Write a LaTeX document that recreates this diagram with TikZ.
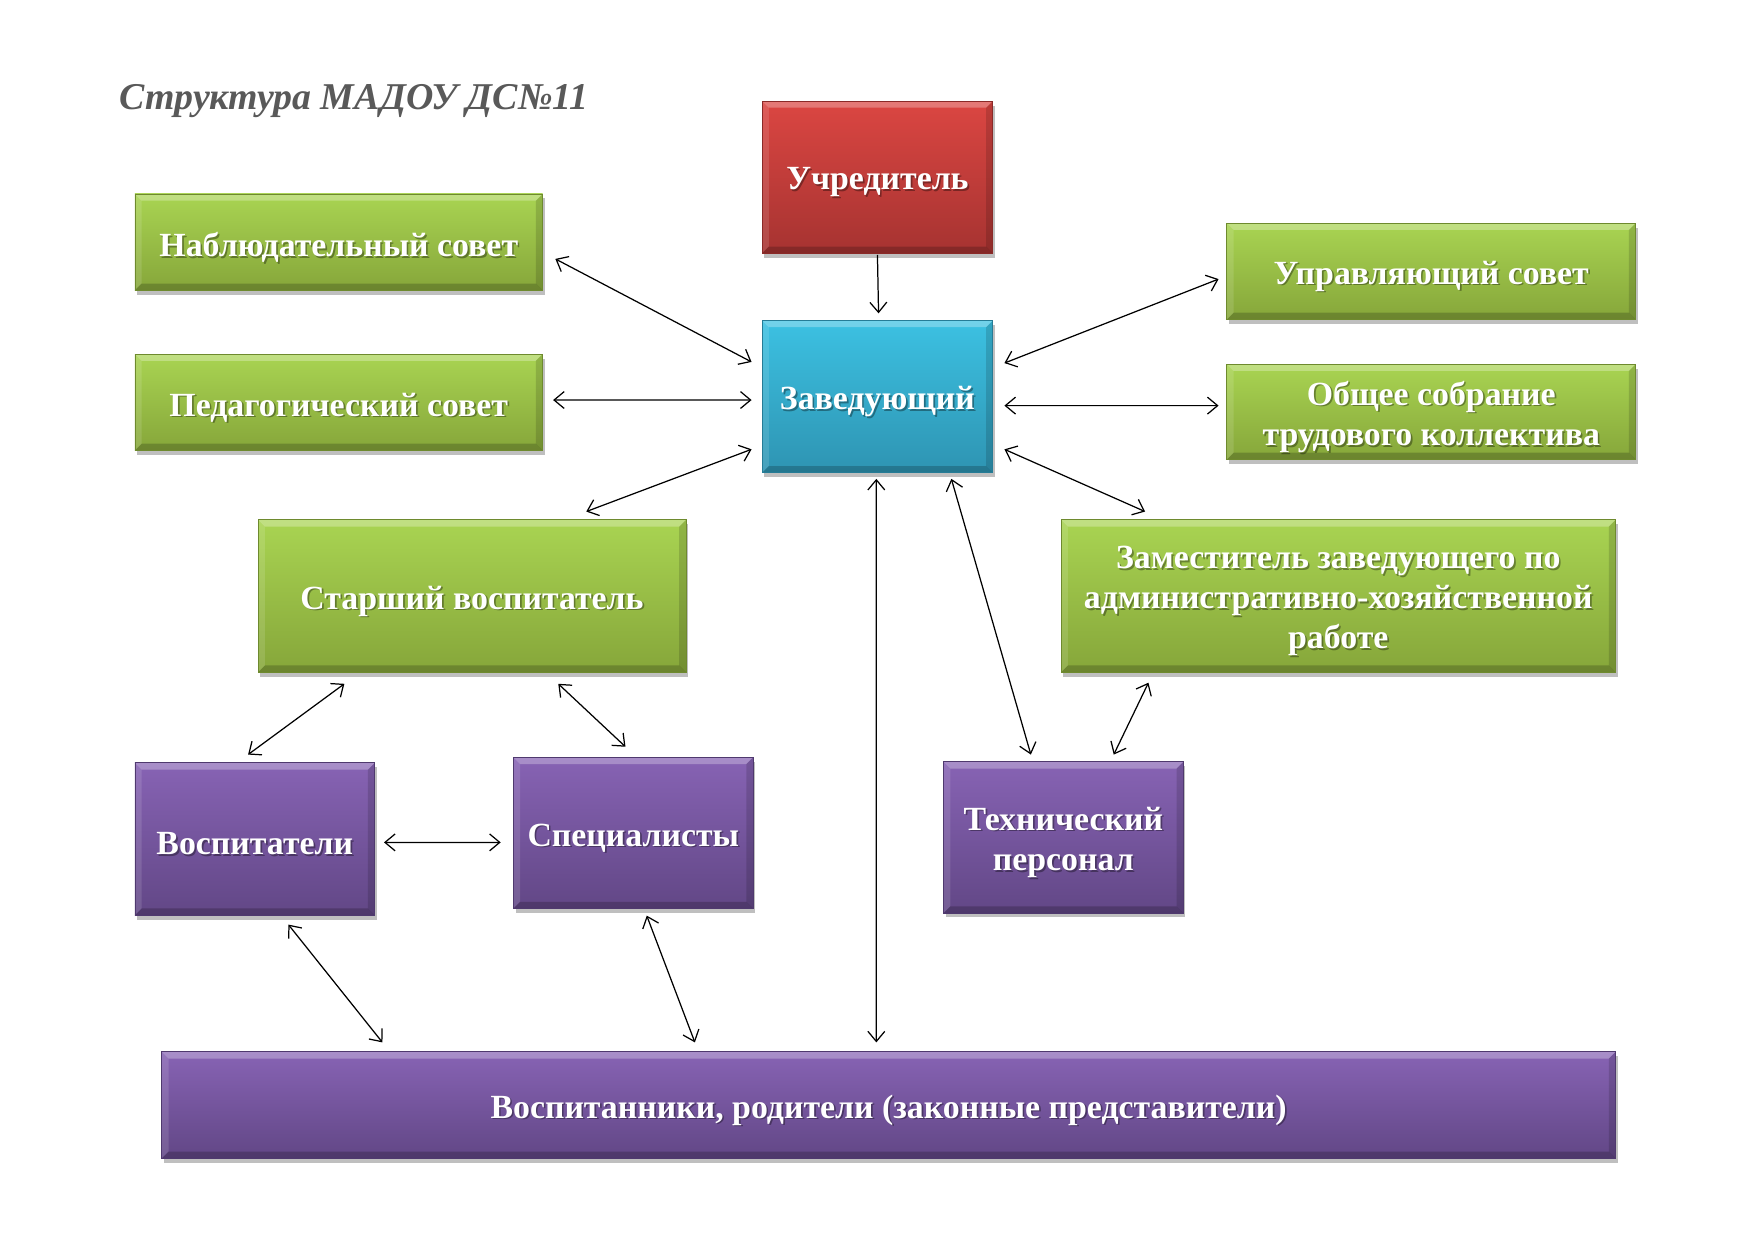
\documentclass[tikz,border=0pt]{standalone}
\usepackage{fontspec}
\setmainfont{Liberation Serif}
\usetikzlibrary{arrows.meta,shadows,calc}
\definecolor{gT}{HTML}{A9D452}
\definecolor{gB}{HTML}{86A63A}
\definecolor{gD}{HTML}{6E8A2E}
\definecolor{rT}{HTML}{DB4642}
\definecolor{rB}{HTML}{A63331}
\definecolor{rD}{HTML}{8A2A28}
\definecolor{cT}{HTML}{3CC1E2}
\definecolor{cB}{HTML}{2E94B2}
\definecolor{cD}{HTML}{267C96}
\definecolor{pT}{HTML}{8763B4}
\definecolor{pB}{HTML}{624786}
\definecolor{pD}{HTML}{4F396E}
\definecolor{titlegray}{HTML}{595959}
\tikzset{
  bevel/.style={path picture={
    \fill[white,opacity=0.28] (path picture bounding box.north west) -- (path picture bounding box.north east)
      -- ([shift={(-6,6)}]path picture bounding box.north east) -- ([shift={(6,6)}]path picture bounding box.north west) -- cycle;
    \fill[white,opacity=0.12] (path picture bounding box.north west) -- ([shift={(6,6)}]path picture bounding box.north west)
      -- ([shift={(6,-6)}]path picture bounding box.south west) -- (path picture bounding box.south west) -- cycle;
    \fill[black,opacity=0.14] (path picture bounding box.north east) -- ([shift={(-6,6)}]path picture bounding box.north east)
      -- ([shift={(-6,-6)}]path picture bounding box.south east) -- (path picture bounding box.south east) -- cycle;
    \fill[black,opacity=0.2] (path picture bounding box.south west) -- (path picture bounding box.south east)
      -- ([shift={(-6,-6)}]path picture bounding box.south east) -- ([shift={(6,-6)}]path picture bounding box.south west) -- cycle;
  }},
  boxbase/.style={rectangle, inner sep=0pt, line width=0.8pt, bevel,
    drop shadow={shadow xshift=2pt, shadow yshift=-4pt, opacity=0.25, fill=black}},
  greenbox/.style={boxbase, top color=gT, bottom color=gB, draw=gD},
  redbox/.style={boxbase, top color=rT, bottom color=rB, draw=rD},
  cyanbox/.style={boxbase, top color=cT, bottom color=cB, draw=cD},
  purplebox/.style={boxbase, top color=pT, bottom color=pB, draw=pD},
  boxtext/.style={align=center, text=white, inner sep=0pt,
    font=\bfseries\fontsize{30.2}{36}\selectfont},
  boxshadow/.style={boxtext, text=black, opacity=0.35},
  link/.style={line width=1.1pt, >={Straight Barb[length=9pt,width=15pt,line width=1.1pt]}},
  dbl/.style={link, <->},
  sgl/.style={link, ->}
}
% name, x, y, width, height, style, text
\newcommand\mybox[7]{%
  \node[#6, minimum width=#4pt, minimum height=#5pt] (#1) at (#2,#3) {};
  \node[boxshadow] at ([shift={(1.5,6)}]#1.center) {#7};
  \node[boxtext] at ([shift={(0,4.5)}]#1.center) {#7};
}
\begin{document}
\begin{tikzpicture}[x=1pt,y=-1pt]
\useasboundingbox (0,0) rectangle (1560,1102.2);
\fill[white] (0,0) rectangle (1560,1102.2);
\begin{scope}[shift={(-0.5,-0.8)}, scale=0.9955, transform shape]

\node[anchor=west, text=titlegray, inner sep=0pt,
  font=\bfseries\itshape\fontsize{33.8}{40}\selectfont] (title) at (107,91) {Структура МАДОУ ДС№11};

\mybox{uch}{784}{159}{206}{136}{redbox}{Учредитель}
\mybox{nab}{303}{217}{364}{86}{greenbox}{Наблюдательный совет}
\mybox{ped}{303}{360}{364}{86}{greenbox}{Педагогический совет}
\mybox{zav}{784}{355}{206}{136}{cyanbox}{Заведующий}
\mybox{upr}{1278.5}{243}{365}{86}{greenbox}{Управляющий совет}
\mybox{obs}{1278.5}{368.5}{365}{85}{greenbox}{Общее собрание\\трудового коллектива}
\mybox{sta}{422}{533}{382}{136}{greenbox}{Старший воспитатель}
\mybox{zam}{1195.5}{533}{495}{136}{greenbox}{\fontsize{30.2}{34.6}\selectfont Заместитель заведующего по\\административно-хозяйственной\\работе}
\mybox{vos}{228}{750}{214}{136}{purplebox}{Воспитатели}
\mybox{spe}{566}{744.5}{214}{135}{purplebox}{Специалисты}
\mybox{teh}{950}{748.5}{214}{135}{purplebox}{Технический\\персонал}
\mybox{par}{794}{987.5}{1298}{95}{purplebox}{Воспитанники, родители (законные представители)}

% connectors
\draw[sgl] ([shift={(0,1)}]uch.south) -- ([shift={(1,-6)}]zav.north);
\draw[dbl] ([shift={(11,15)}]nab.east) -- ([shift={(-9,-31)}]zav.west);
\draw[dbl] ([shift={(9,-2)}]ped.east) -- ([shift={(-9,3)}]zav.west);
\draw[dbl] ([shift={(-9,47)}]zav.west) -- ([shift={(102,-7)}]sta.north);
\draw[dbl] ([shift={(10,-30)}]zav.east) -- ([shift={(-7,7)}]upr.west);
\draw[dbl] ([shift={(10,8)}]zav.east) -- ([shift={(-7,-5.5)}]obs.west);
\draw[dbl] ([shift={(10,47)}]zav.east) -- ([shift={(-172.5,-7)}]zam.north);
\draw[dbl] ([shift={(-1,5)}]zav.south) -- ([shift={(-11,-8)}]par.north);
\draw[dbl] ([shift={(66,5)}]zav.south) -- ([shift={(-29,-6)}]teh.north);
\draw[dbl] ([shift={(-169.5,9)}]zam.south) -- ([shift={(45,-6)}]teh.north);
\draw[dbl] ([shift={(-114,10)}]sta.south) -- ([shift={(-6,-7)}]vos.north);
\draw[dbl] ([shift={(77,10)}]sta.south) -- ([shift={(-7,-9)}]spe.north);
\draw[dbl] ([shift={(8,3)}]vos.east) -- ([shift={(-11,8.5)}]spe.west);
\draw[dbl] ([shift={(30,8)}]vos.south) -- ([shift={(-452,-8)}]par.north);
\draw[dbl] ([shift={(12,6)}]spe.south) -- ([shift={(-173,-8)}]par.north);
\end{scope}
\end{tikzpicture}
\end{document}
